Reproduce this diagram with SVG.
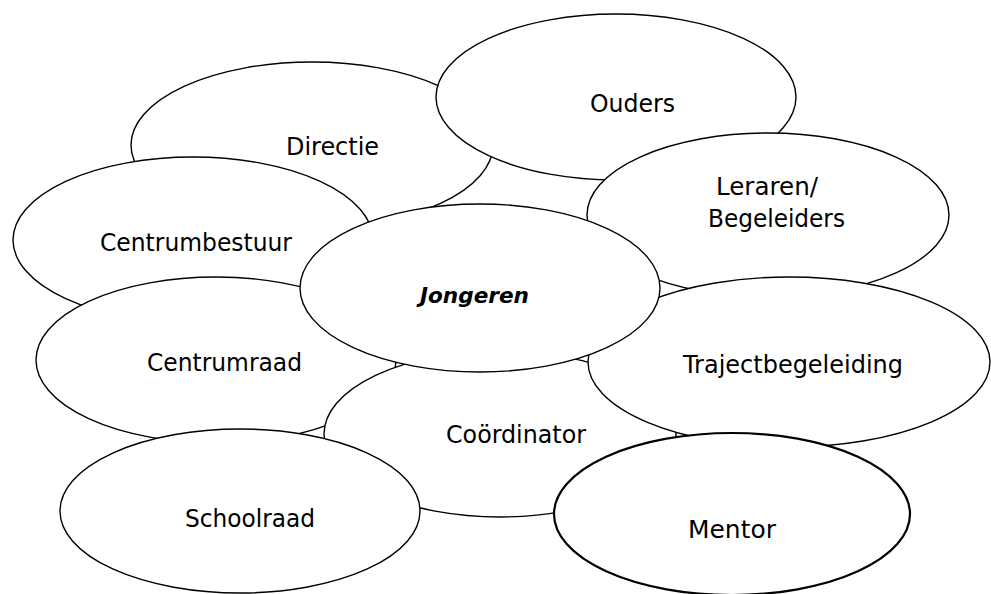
<svg xmlns="http://www.w3.org/2000/svg" width="991" height="594" viewBox="0 0 991 594">
<style>
.n ellipse{fill:#fff;stroke:#000;stroke-width:1.4}
.n text{font-family:"DejaVu Sans","Verdana",sans-serif;font-size:24px;fill:#000}
#mentor ellipse{stroke-width:2.2}
#jongeren text{font-weight:bold;font-style:italic;font-size:22px}
</style>
<rect width="991" height="594" fill="#fff"/>
<g id="connectors"></g>
<g class="n" id="directie"><ellipse cx="312" cy="145" rx="181" ry="83"/><text x="286" y="155" textLength="93" lengthAdjust="spacingAndGlyphs">Directie</text></g>
<g class="n" id="ouders"><ellipse cx="616" cy="97" rx="180" ry="83"/><text x="590" y="112" textLength="85" lengthAdjust="spacingAndGlyphs">Ouders</text></g>
<g class="n" id="leraren"><ellipse cx="768" cy="215" rx="181" ry="82"/><text x="716" y="195" textLength="102" lengthAdjust="spacingAndGlyphs">Leraren/</text><text x="708" y="227" textLength="137" lengthAdjust="spacingAndGlyphs">Begeleiders</text></g>
<g class="n" id="centrumbestuur"><ellipse cx="193" cy="240" rx="180" ry="83"/><text x="100" y="251" textLength="192" lengthAdjust="spacingAndGlyphs">Centrumbestuur</text></g>
<g class="n" id="centrumraad"><ellipse cx="216" cy="360" rx="180" ry="83"/><text x="147" y="371" textLength="155" lengthAdjust="spacingAndGlyphs">Centrumraad</text></g>
<g class="n" id="coordinator"><ellipse cx="500" cy="434" rx="176" ry="83"/><text x="446" y="443" textLength="140" lengthAdjust="spacingAndGlyphs">Coördinator</text></g>
<g class="n" id="trajectbegeleiding"><ellipse cx="789" cy="362" rx="201" ry="85"/><text x="683" y="373" textLength="220" lengthAdjust="spacingAndGlyphs">Trajectbegeleiding</text></g>
<g class="n" id="jongeren"><ellipse cx="480" cy="288" rx="180" ry="84"/><text x="420" y="303" textLength="109" lengthAdjust="spacingAndGlyphs">Jongeren</text></g>
<g class="n" id="schoolraad"><ellipse cx="240" cy="511" rx="180" ry="82"/><text x="185" y="527" textLength="130" lengthAdjust="spacingAndGlyphs">Schoolraad</text></g>
<g class="n" id="mentor"><ellipse cx="732" cy="514" rx="178" ry="81"/><text x="688" y="538" textLength="88" lengthAdjust="spacingAndGlyphs">Mentor</text></g>
</svg>
